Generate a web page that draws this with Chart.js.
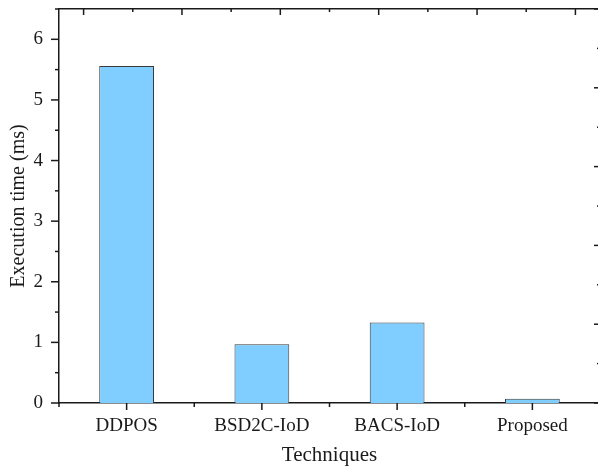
<!DOCTYPE html>
<html lang="en">
<head>
  <meta charset="UTF-8" />
  <title>Execution time</title>
  <script src="https://cdn.jsdelivr.net/npm/chart.js"></script>
  <style>
    html, body { margin: 0; padding: 0; background: #fff; overflow: hidden; }
    .wrap { position: relative; width: 606px; height: 470px; }
  </style>
</head>
<body>
  <div class="wrap">
    <canvas id="timeChart"></canvas>
  </div>

  <script>
    // data
    const techniques = ['DDPOS', 'BSD2C-IoD', 'BACS-IoD', 'Proposed'];
    const execTime = [5.56, 0.97, 1.33, 0.07];
    const yTicks = [0, 1, 2, 3, 4, 5, 6];

    const serif = '"Liberation Serif", "Times New Roman", serif';
    const ink = '#1a1a1a';

    // tick marks like the Origin plot: outward on left/bottom, inward on top/right
    const tickMarks = {
      id: 'tickMarks',
      afterDraw(chart) {
        const { ctx, chartArea: a, scales } = chart;
        ctx.save();
        ctx.strokeStyle = ink;
        ctx.lineWidth = 1.5;
        const line = (x1, y1, x2, y2) => {
          ctx.beginPath(); ctx.moveTo(x1, y1); ctx.lineTo(x2, y2); ctx.stroke();
        };
        // left
        for (let v = 0; v <= 6.5; v += 0.5) {
          const y = scales.y.getPixelForValue(v);
          const len = Number.isInteger(v) ? 8 : 4;
          line(a.left - len, y, a.left, y);
        }
        // bottom
        techniques.forEach((t, i) => {
          const xc = scales.x.getPixelForValue(i);
          line(xc, a.bottom, xc, a.bottom + 7);
          const xb = scales.x.getPixelForValue(i - 0.5);
          line(xb, a.bottom, xb, a.bottom + 4);
        });
        // top and right (own 0..5 scales)
        for (let v = 0; v <= 5; v += 0.5) {
          const len = Number.isInteger(v) ? 6 : 3;
          const xt = scales.x2.getPixelForValue(v);
          line(xt, a.top, xt, a.top + len);
          const yr = scales.y2.getPixelForValue(v);
          line(a.right - len, yr, a.right, yr);
        }
        ctx.restore();
      }
    };

    const ctx = document.getElementById('timeChart').getContext('2d');
    new Chart(ctx, {
      type: 'bar',
      data: {
        labels: techniques,
        datasets: [{
          data: execTime,
          backgroundColor: 'rgb(128, 206, 255)',
          borderColor: '#3a3a3a',
          borderWidth: 1,
          categoryPercentage: 1,
          barPercentage: 0.405
        }]
      },
      options: {
        responsive: true,
        maintainAspectRatio: false,
        animation: false,
        events: [],
        layout: { padding: 0 },
        plugins: { legend: { display: false }, tooltip: { enabled: false } },
        scales: {
          x: {
            position: 'bottom',
            grid: { display: false },
            border: { display: true, color: ink, width: 1.5 },
            ticks: { color: ink, font: { family: serif, size: 19 }, padding: 4, maxRotation: 0 },
            title: { display: true, text: 'Techniques', color: ink, font: { family: serif, size: 21 }, padding: 2 },
            afterFit: s => { s.height = 67; s.paddingLeft = 0; s.paddingRight = 0; }
          },
          y: {
            position: 'left',
            min: 0,
            max: 6.5,
            grid: { display: false },
            border: { display: true, color: ink, width: 1.5 },
            ticks: {
              color: ink, font: { family: serif, size: 19 }, padding: 8,
              stepSize: 1, includeBounds: false,
              callback: v => yTicks.includes(v) ? v : ''
            },
            title: { display: true, text: 'Execution time (ms)', color: ink, font: { family: serif, size: 20 }, padding: 7 },
            afterFit: s => { s.width = 59; s.paddingTop = 0; s.paddingBottom = 0; }
          },
          x2: {
            type: 'linear',
            position: 'top',
            min: 0,
            max: 5,
            grid: { display: false },
            border: { display: true, color: ink, width: 1.5 },
            ticks: { display: false },
            afterFit: s => { s.height = 9; s.paddingLeft = 0; s.paddingRight = 0; }
          },
          y2: {
            type: 'linear',
            position: 'right',
            min: 0,
            max: 5,
            grid: { display: false },
            border: { display: true, color: ink, width: 1.5 },
            ticks: { display: false },
            afterFit: s => { s.width = 6; s.paddingTop = 0; s.paddingBottom = 0; }
          }
        }
      },
      plugins: [tickMarks]
    });
  </script>
</body>
</html>
